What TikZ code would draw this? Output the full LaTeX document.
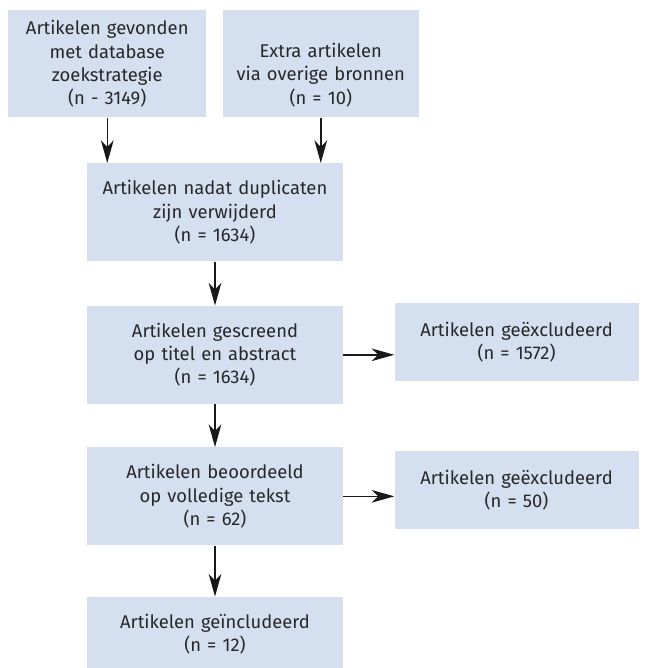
\documentclass[tikz,border=0pt]{standalone}
\usepackage{fontspec}
\setmainfont{Fira Sans}
\usepackage{xcolor}
\usepackage{tikz}
\usetikzlibrary{positioning,arrows.meta}
\definecolor{boxblue}{RGB}{212,223,240}
\definecolor{boxtext}{RGB}{40,40,40}
\definecolor{arrowgray}{RGB}{25,25,25}

\begin{document}
\begin{tikzpicture}[
    font=\fontsize{13.8}{17.4}\selectfont,
    flow_box/.style={fill=boxblue, text=boxtext, inner xsep=0pt, inner ysep=0pt, align=center},
    search_box/.style={flow_box, minimum height=80.25pt},
    main_box/.style={flow_box, text width=192pt, minimum height=73.5pt},
    excl_box/.style={flow_box, text width=183pt, minimum height=58.5pt},
    arrow/.style={-{Stealth[length=17pt, width=9.5pt, inset=5pt]}, line width=1.1pt, draw=arrowgray}
]
\useasboundingbox (0,0) rectangle (484.5pt,-501pt);

\node (search) [search_box, text width=148.5pt, anchor=north west] at (6pt,-7.5pt)
    {Artikelen gevonden\\met database\\zoekstrategie\\(n - 3149)};

\node (extra)  [search_box, text width=147pt, text depth=20pt, right=12pt of search]
    {Extra artikelen\\via overige bronnen\\(n = 10)};

\node (dedup)  [main_box, anchor=north] at (161.25pt,-122.25pt)
    {Artikelen nadat duplicaten\\zijn verwijderd\\(n = 1634)};

\node (screen) [main_box, below=33pt of dedup]
    {Artikelen gescreend\\op titel en abstract\\(n = 1634)};

\node (excl1)  [excl_box, below right=-2.25pt and 38.25pt of screen.north east]
    {Artikelen geëxcludeerd\\(n = 1572)};

\node (fulltext) [main_box, below=32.25pt of screen]
    {Artikelen beoordeeld\\op volledige tekst\\(n = 62)};

\node (excl2)  [excl_box, below right=3pt and 38.25pt of fulltext.north east]
    {Artikelen geëxcludeerd\\(n = 50)};

\node (incl)   [main_box, minimum height=55.5pt, below=38.25pt of fulltext]
    {Artikelen geïncludeerd\\(n = 12)};

\draw [arrow] (search.south)   -- (search.south |- dedup.north);
\draw [arrow] (extra.south)    -- (extra.south |- dedup.north);
\draw [arrow] (dedup.south)    -- (screen.north);
\draw [arrow] (screen.east)    -- (screen.east -| excl1.west);
\draw [arrow] (screen.south)   -- (fulltext.north);
\draw [arrow] (fulltext.east)  -- (fulltext.east -| excl2.west);
\draw [arrow] (fulltext.south) -- (incl.north);

\end{tikzpicture}
\end{document}
